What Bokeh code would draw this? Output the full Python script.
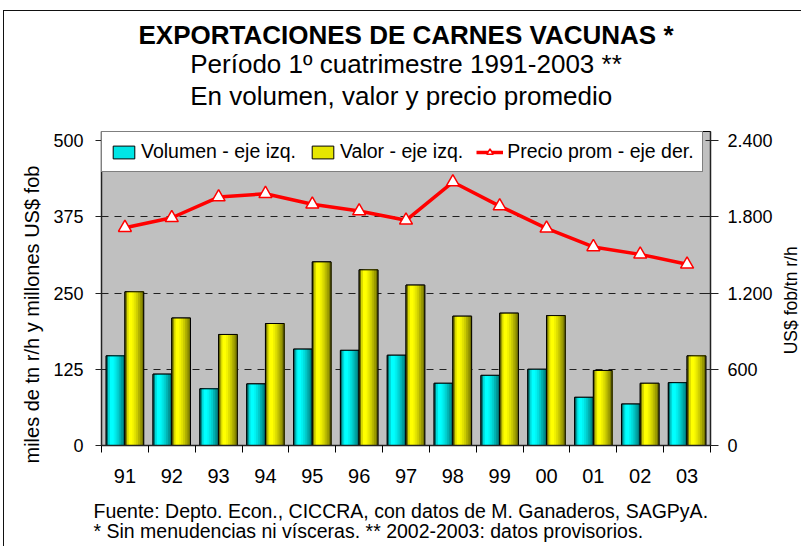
import numpy as np
from bokeh.plotting import figure
from bokeh.layouts import row
from bokeh.models import (Range1d, LinearAxis, FixedTicker, Legend, LegendItem,
                          Title, InlineStyleSheet)
from bokeh.core.properties import value
from bokeh.embed import file_html
from bokeh.resources import INLINE

# ---------------- data ----------------
anios = ["91", "92", "93", "94", "95", "96", "97", "98", "99", "00", "01", "02", "03"]
volumen = [147, 117, 93, 101, 158, 156, 148, 102, 115, 125, 79, 68, 103]
valor = [252, 209, 182, 200, 301, 288, 263, 212, 217, 213, 123, 102, 147]
precio = [1714, 1792, 1955, 1981, 1898, 1845, 1772, 2073, 1884, 1709, 1562, 1504, 1426]

ticks_izq = [0, 125, 250, 375, 500]
ticks_der = [0, 600, 1200, 1800, 2400]
etiquetas_der = ["0", "600", "1.200", "1.800", "2.400"]

titulo = "EXPORTACIONES DE CARNES VACUNAS *"
subtitulo1 = "Período 1º cuatrimestre 1991-2003 **"
subtitulo2 = "En volumen, valor y precio promedio"
fuente1 = "Fuente: Depto. Econ., CICCRA, con datos de M. Ganaderos, SAGPyA."
fuente2 = "* Sin menudencias ni vísceras. ** 2002-2003: datos provisorios."
eje_izq = "miles de tn r/h y millones US$ fob"
eje_der = "US$ fob/tn r/h"
leyendas = ["Volumen - eje izq.", "Valor - eje izq.", "Precio prom - eje der."]

FONT = "Liberation Sans"

n = len(anios)
centros = np.arange(n) + 0.5

# layout: the plot frame spans y 131..445 px; the top 9 px sit behind the legend,
# so the scale maximum (500 / 2.400) falls at y = 140 px
ALTO_FRAME, ALTO_ESCALA = 314, 305
tope_izq = ticks_izq[-1] * ALTO_FRAME / ALTO_ESCALA
tope_der = ticks_der[-1] * ALTO_FRAME / ALTO_ESCALA

W_MAIN, H = 775, 546
p = figure(width=W_MAIN, height=H, x_range=Range1d(0, n), y_range=Range1d(0, tope_izq),
           output_backend="svg", toolbar_location=None,
           min_border_left=101, min_border_right=W_MAIN - 712, min_border_top=131,
           min_border_bottom=101, background_fill_color="#C0C0C0",
           border_fill_color="white", outline_line_color="black")

# outer chart border (decoration)
p.stylesheets = [InlineStyleSheet(css=(
    ":host::after { content: ''; position: absolute; left: 3px; top: 10px; "
    "width: 798px; height: 536px; border-left: 1.5px solid #111; "
    "border-top: 1.5px solid #111; pointer-events: none; box-sizing: border-box; }"))]

# ---------------- axes ----------------
xa = p.xaxis[0]
xa.ticker = FixedTicker(ticks=list(centros), minor_ticks=list(range(n + 1)))
xa.major_label_overrides = {float(c): a for c, a in zip(centros, anios)}
xa.major_tick_out = 0
xa.major_tick_in = 0
xa.minor_tick_out = 7
xa.minor_tick_in = 0
xa.minor_tick_line_color = "black"
xa.major_label_standoff = 16
xa.major_label_text_font = FONT
xa.major_label_text_font_size = "20px"
xa.major_label_text_color = "black"
xa.axis_line_color = "#222222"
xa.axis_line_width = 1.5

ya = p.yaxis[0]
ya.ticker = FixedTicker(ticks=ticks_izq)
ya.major_tick_out = 6
ya.major_tick_in = 0
ya.minor_tick_line_color = None
ya.major_label_standoff = 12
ya.major_label_text_font = FONT
ya.major_label_text_font_size = "18px"
ya.major_label_text_color = "black"
ya.axis_line_color = "#222222"
ya.axis_line_width = 1.5
ya.major_tick_line_color = "#222222"

p.extra_y_ranges = {"precio": Range1d(0, tope_der)}
ra = LinearAxis(y_range_name="precio", ticker=FixedTicker(ticks=ticks_der),
                major_label_overrides={float(t): l for t, l in zip(ticks_der, etiquetas_der)},
                major_tick_in=5, major_tick_out=8, minor_tick_line_color=None,
                major_label_standoff=9, major_label_text_font=FONT,
                major_label_text_font_size="18px", major_label_text_color="black",
                axis_line_color="#222222", axis_line_width=1.5,
                major_tick_line_color="#222222")
p.add_layout(ra, "right")

p.xgrid.visible = False
p.ygrid.ticker = FixedTicker(ticks=ticks_izq[1:-1])
p.ygrid.grid_line_color = "#202020"
p.ygrid.grid_line_dash = "7 6"
p.ygrid.grid_line_width = 1

# ---------------- bars with cylinder shading ----------------
W = 0.4
inicio_franjas = np.arange(10) / 10
niveles = [0.45, 0.85, 1.0, 1.0, 0.95, 0.88, 0.8, 0.7, 0.6, 0.45]


def rgb_hex(rgb, k):
    return "#%02x%02x%02x" % tuple(int(round(c * k)) for c in rgb)


def barras(valores, offset, rgb):
    xc = centros + offset
    base = p.vbar(x=xc, top=valores, bottom=0, width=W,
                  fill_color=rgb_hex(rgb, 0.9), line_color="black", line_width=1)
    for s, k in zip(inicio_franjas, niveles):
        izq = xc - W / 2 + s * W
        der = xc + W / 2
        p.vbar(x=(izq + der) / 2, top=valores, bottom=0, width=(1 - s) * W,
               fill_color=rgb_hex(rgb, k), line_color=None)
    p.vbar(x=xc, top=valores, bottom=0, width=W, fill_color=None,
           line_color="black", line_width=1)
    return base


r_vol = barras(volumen, -0.2, (0, 255, 255))
r_val = barras(valor, 0.2, (255, 255, 0))

# ---------------- price line ----------------
r_line = p.line(centros, precio, y_range_name="precio", line_color="#FF0000",
                line_width=3.5)
r_mark = p.scatter(centros, precio, y_range_name="precio", marker="triangle",
                   size=13, fill_color="white", line_color="#FF0000", line_width=1.5)

# ---------------- legend ----------------
legend = Legend(items=[LegendItem(label=leyendas[0], renderers=[r_vol]),
                       LegendItem(label=leyendas[1], renderers=[r_val]),
                       LegendItem(label=leyendas[2], renderers=[r_line, r_mark])],
                location="top_left", orientation="horizontal",
                label_text_font=FONT, label_text_font_size="19.5px",
                label_text_color="black", glyph_width=27, glyph_height=16,
                label_height=22, label_standoff=4, spacing=13, padding=8, margin=0,
                border_line_color="black", border_line_width=1,
                background_fill_color="white", background_fill_alpha=1)
p.add_layout(legend)

# ---------------- titles (above, nearest to the frame first) ----------------
p.add_layout(Title(text=" ", text_font_size="1px", standoff=16.7), "above")
p.add_layout(Title(text=subtitulo1 + "\n" + subtitulo2, align="center",
                   text_font=FONT, text_font_size="26px", text_font_style="normal",
                   text_color="black", text_line_height=1.074, standoff=0), "above")
p.add_layout(Title(text=titulo, align="center",
                   text_font=FONT, text_font_size="26px", text_font_style="bold",
                   text_color="black", standoff=-5.6), "above")

# ---------------- footnotes (below, after the x axis) ----------------
p.add_layout(Title(text=" ", text_font_size="1px", standoff=10), "below")
p.add_layout(Title(text=fuente1 + "\n" + fuente2, align="left", offset=-8,
                   text_font=FONT, text_font_size="19.5px", text_font_style="normal",
                   text_color="black", text_line_height=0.93, standoff=0), "below")

# ---------------- left axis title ----------------
p.add_layout(Title(text=eje_izq, align="left", offset=-18,
                   text_font=FONT, text_font_size="20px", text_font_style="normal",
                   text_color="black", standoff=15.6), "left")

# ---------------- right axis title (narrow companion canvas) ----------------
W_SIDE = 801 - W_MAIN
q = figure(width=W_SIDE, height=H, x_range=Range1d(0, W_SIDE), y_range=Range1d(0, H),
           output_backend="svg", toolbar_location=None, min_border=0,
           x_axis_type=None, y_axis_type=None, outline_line_color=None,
           background_fill_color=None, border_fill_color=None)
q.grid.visible = False
q.text(x=[15], y=[H - 293.5], text=[eje_der], angle=np.pi / 2,
       text_align="center", text_baseline="middle", text_font=value(FONT),
       text_font_size="17.5px", text_color="black")

layout = row(p, q, spacing=0)
open("out.html", "w").write(file_html(layout, INLINE))
